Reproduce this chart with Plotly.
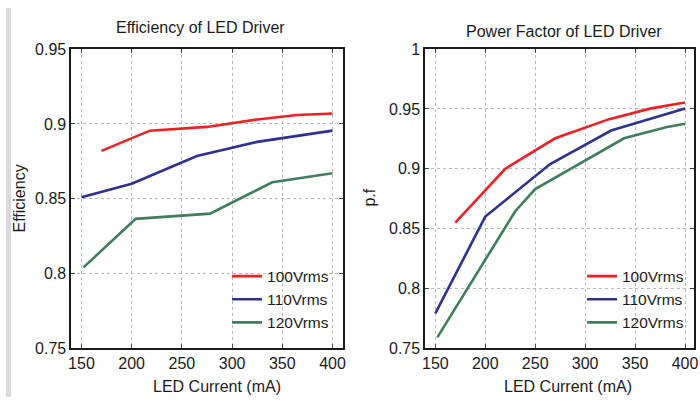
import plotly.graph_objects as go

# ---- data ----
eff_100_x = [170, 218, 275, 325, 365, 400]
eff_100_y = [0.882, 0.8955, 0.898, 0.903, 0.906, 0.907]
eff_110_x = [150, 200, 265, 325, 400]
eff_110_y = [0.851, 0.860, 0.8785, 0.888, 0.8955]
eff_120_x = [152, 204, 278, 340, 400]
eff_120_y = [0.804, 0.8365, 0.840, 0.861, 0.867]

pf_100_x = [170, 220, 270, 324, 366, 400]
pf_100_y = [0.855, 0.900, 0.9255, 0.9415, 0.9505, 0.9555]
pf_110_x = [150, 200, 265, 326, 400]
pf_110_y = [0.779, 0.860, 0.904, 0.932, 0.9505]
pf_120_x = [152, 230, 250, 339, 382, 400]
pf_120_y = [0.759, 0.8645, 0.883, 0.9255, 0.935, 0.9377]

series_names = ["100Vrms", "110Vrms", "120Vrms"]
colors = ["#ee2024", "#2e3192", "#3f7d5c"]
x_ticks = [150, 200, 250, 300, 350, 400]
eff_ticks = [0.75, 0.8, 0.85, 0.9, 0.95]
eff_tick_text = ["0.75", "0.8", "0.85", "0.9", "0.95"]
pf_ticks = [0.75, 0.8, 0.85, 0.9, 0.95, 1.0]
pf_tick_text = ["0.75", "0.8", "0.85", "0.9", "0.95", "1"]

FONT = "Liberation Sans, Arial, sans-serif"

fig = go.Figure()
eff = [(eff_100_x, eff_100_y), (eff_110_x, eff_110_y), (eff_120_x, eff_120_y)]
pf = [(pf_100_x, pf_100_y), (pf_110_x, pf_110_y), (pf_120_x, pf_120_y)]
for (xs, ys), name, c in zip(eff, series_names, colors):
    fig.add_trace(go.Scatter(x=xs, y=ys, mode="lines", name=name,
                             line=dict(color=c, width=2.6),
                             xaxis="x", yaxis="y", legend="legend"))
for (xs, ys), name, c in zip(pf, series_names, colors):
    fig.add_trace(go.Scatter(x=xs, y=ys, mode="lines", name=name,
                             line=dict(color=c, width=2.6),
                             xaxis="x2", yaxis="y2", legend="legend2"))

W, H = 700, 406
def px(x):
    return x / W
def py(y):
    return 1 - y / H

axis_common = dict(
    showline=True, linecolor="#1a1a1a", linewidth=2, mirror="ticks",
    ticks="inside", ticklen=4, tickcolor="#444", tickwidth=1,
    showgrid=True, gridcolor="#b8b8b8", griddash="dot", gridwidth=1,
    zeroline=False, tickfont=dict(family=FONT, size=16, color="#1a1a1a"),
)

ydom = [py(355), py(43)]
fig.update_layout(
    width=W, height=H,
    margin=dict(l=0, r=0, t=0, b=0),
    paper_bgcolor="white", plot_bgcolor="white",
    font=dict(family=FONT, color="#1a1a1a"),
    xaxis=dict(domain=[px(69), px(343)], range=[140, 410.5], tickvals=x_ticks,
               anchor="y", **axis_common),
    yaxis=dict(domain=ydom, range=[0.75, 0.95], tickvals=eff_ticks,
               ticktext=eff_tick_text, anchor="x", **axis_common),
    xaxis2=dict(domain=[px(426), px(697)], range=[140, 409], tickvals=x_ticks,
                anchor="y2", **axis_common),
    yaxis2=dict(domain=ydom, range=[0.75, 1.0], tickvals=pf_ticks,
                ticktext=pf_tick_text, anchor="x2", **axis_common),
    legend=dict(x=px(226), y=py(262.5), xanchor="left", yanchor="top",
                bgcolor="rgba(0,0,0,0)", font=dict(family=FONT, size=15.5, color="#1a1a1a"),
                tracegroupgap=0),
    legend2=dict(x=px(584), y=py(262.5), xanchor="left", yanchor="top",
                 bgcolor="rgba(0,0,0,0)", font=dict(family=FONT, size=15.5, color="#1a1a1a"),
                 tracegroupgap=0),
    showlegend=True,
)

ann = [
    dict(text="Efficiency of LED Driver", x=px(199), y=py(20), size=16, angle=0),
    dict(text="Power Factor of LED Driver", x=px(566), y=py(25), size=16, angle=0),
    dict(text="LED Current (mA)", x=px(216), y=py(395), size=16, angle=0),
    dict(text="LED Current (mA)", x=px(570), y=py(395), size=16, angle=0),
    dict(text="Efficiency", x=px(17), y=py(199), size=16, angle=-90),
    dict(text="p.f", x=px(370), y=py(198), size=16, angle=-90),
]
for a in ann:
    fig.add_annotation(text=a["text"], x=a["x"], y=a["y"], xref="paper", yref="paper",
                       xanchor="center", yanchor="middle", showarrow=False,
                       textangle=a["angle"],
                       font=dict(family=FONT, size=a["size"], color="#1a1a1a"))

# light gray strip on the left edge
fig.add_shape(type="rect", xref="paper", yref="paper", x0=px(3), x1=px(8), y0=0, y1=1,
              fillcolor="#d9d9d9", line=dict(width=0), layer="below")

css = ("var s=document.createElement('style');"
       "s.textContent='html,body{margin:0!important;padding:0!important;overflow:hidden;"
       "width:700px;height:406px;}';"
       "document.head.appendChild(s);")
fig.write_html("out.html", config={"displayModeBar": False, "staticPlot": True},
               post_script=css)
